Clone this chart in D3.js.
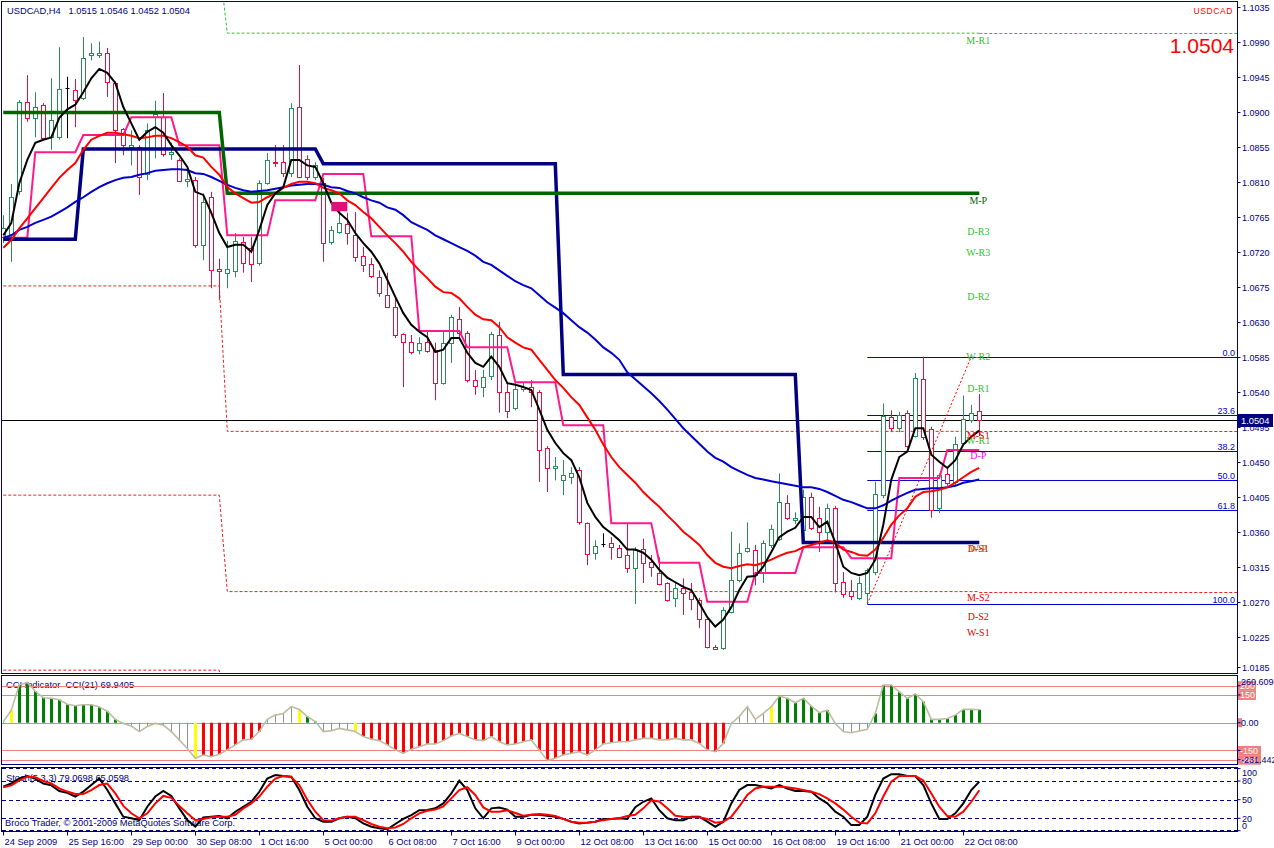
<!DOCTYPE html>
<html><head><meta charset="utf-8">
<script src="https://cdn.jsdelivr.net/npm/d3@7"></script>
<style>
body{margin:0;background:#fff;}
svg{display:block;}
text{font-family:"Liberation Sans",Arial,sans-serif;white-space:pre;}
text.serif{font-family:"Liberation Serif","DejaVu Serif",serif;}
</style>
</head><body>
<svg id="chart" width="1274" height="848"></svg>
<script>
// ---------------- DATA ----------------
const timeLabels = ["24 Sep 2009","25 Sep 16:00","29 Sep 00:00","30 Sep 08:00","1 Oct 16:00","5 Oct 00:00","6 Oct 08:00","7 Oct 16:00","9 Oct 00:00","12 Oct 08:00","13 Oct 16:00","15 Oct 00:00","16 Oct 08:00","19 Oct 16:00","21 Oct 00:00","22 Oct 08:00"];
const timeLabelBars = [0,8,16,24,32,40,48,56,64,72,80,88,96,104,112,120];
const priceTicks = [1.1035,1.0990,1.0945,1.0900,1.0855,1.0810,1.0765,1.0720,1.0675,1.0630,1.0585,1.0540,1.0495,1.0450,1.0405,1.0360,1.0315,1.0270,1.0225,1.0185];

const open = [1.0739,1.0743,1.0797,1.0912,1.0892,1.0909,1.0867,1.0867,1.0930,1.0928,
1.0918,1.0972,1.0973,1.0975,1.0937,1.0878,1.0855,1.0855,1.0819,1.0893,
1.0893,1.0846,1.0838,1.0810,1.0812,1.0729,1.0790,1.0698,1.0693,1.0696,
1.0732,1.0725,1.0705,1.0808,1.0835,1.0835,1.0821,1.0906,1.0839,1.0816,
1.0808,1.0732,1.0745,1.0756,1.0741,1.0714,1.0704,1.0687,1.0664,1.0649,
1.0614,1.0604,1.0594,1.0604,1.0594,1.0551,1.0603,1.0633,1.0615,1.0555,
1.0546,1.0560,1.0613,1.0540,1.0519,1.0543,1.0546,1.0540,1.0468,1.0441,
1.0426,1.0430,1.0439,1.0371,1.0333,1.0344,1.0345,1.0339,1.0330,1.0313,
1.0338,1.0321,1.0307,1.0294,1.0275,1.0288,1.0282,1.0272,1.0248,1.0212,
1.0210,1.0257,1.0298,1.0335,1.0336,1.0307,1.0343,1.0351,1.0397,1.0375,
1.0362,1.0405,1.0378,1.0360,1.0391,1.0295,1.0284,1.0275,1.0281,1.0308,
1.0407,1.0507,1.0493,1.0513,1.0484,1.0556,1.0492,1.0391,1.0434,1.0424,
1.0474,1.0504,1.0515];
const high = [1.0767,1.0807,1.0915,1.0947,1.0925,1.0911,1.0943,1.0983,1.0945,1.0942,
1.0996,1.0988,1.0990,1.0982,1.0939,1.0879,1.0876,1.0857,1.0885,1.0914,
1.0924,1.0860,1.0840,1.0825,1.0816,1.0795,1.0797,1.0711,1.0734,1.0744,
1.0739,1.0739,1.0812,1.0847,1.0857,1.0857,1.0911,1.0960,1.0844,1.0835,
1.0815,1.0753,1.0784,1.0770,1.0771,1.0726,1.0712,1.0696,1.0693,1.0662,
1.0615,1.0613,1.0610,1.0617,1.0603,1.0619,1.0639,1.0649,1.0618,1.0568,
1.0568,1.0617,1.0630,1.0551,1.0551,1.0552,1.0555,1.0542,1.0470,1.0456,
1.0452,1.0443,1.0443,1.0372,1.0349,1.0358,1.0353,1.0343,1.0371,1.0340,
1.0351,1.0330,1.0327,1.0295,1.0294,1.0300,1.0294,1.0275,1.0249,1.0214,
1.0263,1.0360,1.0345,1.0372,1.0343,1.0349,1.0369,1.0435,1.0407,1.0385,
1.0414,1.0410,1.0392,1.0396,1.0393,1.0308,1.0298,1.0302,1.0313,1.0424,
1.0525,1.0516,1.0514,1.0516,1.0564,1.0585,1.0495,1.0435,1.0443,1.0482,
1.0535,1.0523,1.0537];
const low = [1.0731,1.0707,1.0793,1.0887,1.0867,1.0864,1.0851,1.0864,1.0866,1.0880,
1.0915,1.0966,1.0969,1.0919,1.0834,1.0844,1.0831,1.0793,1.0812,1.0840,
1.0842,1.0838,1.0810,1.0803,1.0725,1.0709,1.0673,1.0658,1.0673,1.0687,
1.0693,1.0681,1.0702,1.0806,1.0829,1.0816,1.0816,1.0815,1.0812,1.0812,
1.0707,1.0729,1.0743,1.0729,1.0707,1.0694,1.0686,1.0662,1.0648,1.0609,
1.0546,1.0588,1.0588,1.0590,1.0529,1.0549,1.0577,1.0610,1.0552,1.0536,
1.0533,1.0555,1.0513,1.0506,1.0516,1.0540,1.0520,1.0424,1.0411,1.0426,
1.0407,1.0421,1.0369,1.0317,1.0324,1.0340,1.0324,1.0326,1.0307,1.0267,
1.0294,1.0302,1.0291,1.0270,1.0263,1.0253,1.0259,1.0236,1.0210,1.0208,
1.0208,1.0255,1.0295,1.0333,1.0291,1.0294,1.0339,1.0348,1.0375,1.0370,
1.0349,1.0362,1.0334,1.0349,1.0282,1.0275,1.0272,1.0272,1.0267,1.0304,
1.0403,1.0488,1.0488,1.0468,1.0481,1.0478,1.0378,1.0384,1.0419,1.0420,
1.0471,1.0500,1.0483];
const close = [1.0750,1.0790,1.0912,1.0891,1.0906,1.0867,1.0889,1.0929,1.0930,1.0915,
1.0969,1.0975,1.0975,1.0938,1.0876,1.0857,1.0857,1.0816,1.0876,1.0897,
1.0846,1.0848,1.0811,1.0813,1.0729,1.0784,1.0696,1.0695,1.0698,1.0734,
1.0705,1.0705,1.0808,1.0838,1.0834,1.0821,1.0905,1.0816,1.0816,1.0831,
1.0731,1.0748,1.0757,1.0744,1.0713,1.0703,1.0689,1.0666,1.0649,1.0613,
1.0604,1.0591,1.0603,1.0592,1.0552,1.0603,1.0636,1.0615,1.0555,1.0547,
1.0559,1.0614,1.0540,1.0516,1.0543,1.0546,1.0540,1.0466,1.0442,1.0444,
1.0433,1.0435,1.0372,1.0331,1.0342,1.0344,1.0340,1.0327,1.0313,1.0336,
1.0320,1.0315,1.0293,1.0272,1.0288,1.0282,1.0273,1.0248,1.0212,1.0209,
1.0259,1.0298,1.0333,1.0339,1.0304,1.0345,1.0363,1.0398,1.0378,1.0378,
1.0405,1.0365,1.0360,1.0391,1.0295,1.0279,1.0277,1.0294,1.0311,1.0408,
1.0509,1.0493,1.0510,1.0471,1.0558,1.0482,1.0388,1.0433,1.0423,1.0473,
1.0505,1.0513,1.0504];

const maFast = [1.0741,1.0757,1.0808,1.0838,1.0860,1.0864,1.0867,1.0892,1.0903,1.0909,
1.0925,1.0943,1.0955,1.0950,1.0937,1.0906,1.0885,1.0864,1.0874,1.0880,
1.0873,1.0857,1.0844,1.0829,1.0797,1.0793,1.0770,1.0744,1.0726,1.0729,
1.0729,1.0720,1.0748,1.0780,1.0795,1.0803,1.0838,1.0838,1.0831,1.0829,
1.0808,1.0783,1.0770,1.0761,1.0744,1.0731,1.0720,1.0705,1.0684,1.0662,
1.0641,1.0626,1.0617,1.0610,1.0591,1.0594,1.0609,1.0609,1.0590,1.0577,
1.0572,1.0585,1.0572,1.0551,1.0549,1.0546,1.0542,1.0517,1.0491,1.0474,
1.0461,1.0452,1.0430,1.0397,1.0379,1.0366,1.0358,1.0349,1.0337,1.0337,
1.0333,1.0324,1.0311,1.0301,1.0295,1.0289,1.0285,1.0268,1.0250,1.0238,
1.0247,1.0263,1.0285,1.0302,1.0303,1.0315,1.0334,1.0353,1.0360,1.0365,
1.0379,1.0379,1.0366,1.0373,1.0346,1.0315,1.0307,1.0304,1.0307,1.0324,
1.0369,1.0427,1.0456,1.0463,1.0493,1.0493,1.0459,1.0450,1.0442,1.0452,
1.0472,1.0482,1.0490];
const maMid = [1.0725,1.0735,1.0750,1.0763,1.0776,1.0789,1.0802,1.0815,1.0825,1.0834,
1.0851,1.0864,1.0869,1.0873,1.0873,1.0871,1.0869,1.0866,1.0867,1.0869,
1.0869,1.0866,1.0861,1.0855,1.0844,1.0841,1.0829,1.0819,1.0803,1.0795,
1.0789,1.0783,1.0784,1.0790,1.0795,1.0802,1.0807,1.0810,1.0810,1.0808,
1.0802,1.0799,1.0795,1.0786,1.0780,1.0771,1.0763,1.0752,1.0741,1.0731,
1.0720,1.0707,1.0696,1.0686,1.0675,1.0668,1.0667,1.0660,1.0649,1.0639,
1.0633,1.0632,1.0623,1.0610,1.0603,1.0597,1.0594,1.0581,1.0568,1.0555,
1.0545,1.0533,1.0523,1.0507,1.0491,1.0472,1.0456,1.0443,1.0433,1.0423,
1.0411,1.0401,1.0392,1.0381,1.0371,1.0360,1.0352,1.0343,1.0330,1.0320,
1.0315,1.0313,1.0316,1.0318,1.0317,1.0320,1.0324,1.0329,1.0333,1.0335,
1.0340,1.0343,1.0346,1.0349,1.0346,1.0337,1.0334,1.0330,1.0329,1.0337,
1.0352,1.0369,1.0381,1.0390,1.0405,1.0411,1.0412,1.0414,1.0417,1.0423,
1.0430,1.0437,1.0442];
const maSlow = [1.0738,1.0741,1.0748,1.0752,1.0757,1.0761,1.0765,1.0771,1.0777,1.0784,
1.0790,1.0797,1.0803,1.0808,1.0812,1.0815,1.0816,1.0819,1.0821,1.0824,
1.0825,1.0826,1.0826,1.0825,1.0821,1.0820,1.0816,1.0811,1.0806,1.0802,
1.0799,1.0797,1.0798,1.0799,1.0801,1.0803,1.0805,1.0806,1.0807,1.0807,
1.0806,1.0803,1.0802,1.0798,1.0795,1.0790,1.0786,1.0783,1.0777,1.0774,
1.0767,1.0758,1.0753,1.0748,1.0741,1.0736,1.0731,1.0726,1.0721,1.0715,
1.0707,1.0703,1.0696,1.0689,1.0682,1.0677,1.0673,1.0664,1.0655,1.0648,
1.0641,1.0632,1.0623,1.0616,1.0607,1.0597,1.0590,1.0581,1.0565,1.0556,
1.0547,1.0538,1.0528,1.0517,1.0505,1.0493,1.0483,1.0473,1.0463,1.0455,
1.0450,1.0443,1.0438,1.0433,1.0429,1.0427,1.0425,1.0423,1.0421,1.0419,
1.0417,1.0417,1.0415,1.0411,1.0406,1.0401,1.0398,1.0394,1.0390,1.0390,
1.0394,1.0400,1.0405,1.0410,1.0414,1.0415,1.0416,1.0416,1.0417,1.0419,
1.0423,1.0425,1.0427];

// pivot step levels: first bar of each period and its value
const dayStartBars = [0,4,10,16,22,28,34,40,46,52,58,64,70,76,82,88,94,100,106,112,118];
const dailyPivot = [1.0738,1.0848,1.0870,1.0893,1.0857,1.0741,1.0786,1.0820,1.0740,1.0618,1.0597,1.0552,1.0497,1.0371,1.0320,1.0270,1.0307,1.0340,1.0326,1.0429,1.0465];
const weekStartBars = [0,10,40,70,100];
const weeklyPivot = [1.0736,1.0852,1.0833,1.0562,1.0346];
const monthStartBars = [0,28];
const monthlyPivot = [1.0899,1.0795];
const monthlyR1 = [1.1090,1.1001];
const monthlyS1 = [1.0676,1.0489];
const monthlyS2 = [1.0407,1.0283];
const monthlyS3 = [1.0182,1.0090];

const pivotLabelNames = ["M-R1","M-P","D-R3","W-R3","D-R2","W-R2","D-R1","M-S1","W-R1","D-P","D-S1","W-P","M-S2","D-S2","W-S1"];
const pivotLabelLevels = [1.1001,1.0795,1.0755,1.0728,1.0671,1.0594,1.0553,1.0493,1.0486,1.0467,1.0347,1.0347,1.0285,1.0260,1.0240];

const fibLevels = [0,23.6,38.2,50,61.8,100];
const fibHighPrice = 1.0585, fibLowPrice = 1.0267;
const fibBars = [108,121];
const markerBars = [41,43], markerPrices = [1.0784,1.0772];
const bidPrice = 1.0504;

const cci = [5,68,205,218,170,135,132,124,100,92,
97,97,85,62,18,-4,-18,-48,-21,-4,
-13,-48,-93,-139,-192,-175,-184,-171,-147,-120,
-93,-90,-48,18,41,50,87,72,33,6,
-48,-43,-31,-39,-48,-75,-89,-97,-120,-147,
-165,-144,-130,-115,-115,-97,-72,-58,-75,-93,
-97,-75,-103,-120,-115,-103,-93,-147,-205,-192,
-175,-165,-157,-175,-147,-115,-108,-103,-103,-93,
-85,-85,-93,-93,-85,-93,-93,-112,-147,-157,
-112,-4,33,87,18,50,87,144,132,108,
132,90,54,68,-4,-48,-54,-45,-36,50,
204,204,167,132,155,114,18,18,23,41,
72,72,69.94];
const cciStateRuns = [["n",1],["y",1],["g",13],["n",9],["y",1],["r",8],["n",4],["y",1],["g",2],["n",4],["y",1],["r",46],["n",5],["y",1],["g",7],["n",5],["g",14]];
const cciLevels = [200,150,0,-150,-200];
const cciRange = [-231.442,260.609];

const stochMain = [70.8,76,84,88,84,76,73,64,61,55,
63,73.5,84,65.5,44,22.5,20,17,38.6,55,
64,56,36,17,6.4,21.5,22.5,23.6,20,30.6,
38.6,46.6,62.7,84,89.6,88,86.9,65.5,38.6,20,
14.5,14.5,20,22.5,20,11.8,6.4,3.8,2.2,10.8,
19,25,33,33.5,36,44,60,80.4,65.5,36,
20,36,37.5,34,22.5,22.5,25.7,25.7,24,22.5,
19,14.5,11.8,13,14.5,19,19,20,19,38,
46.6,52,33,20,17,17,22.5,22.5,14.5,6.4,
14.5,44,65.5,73.5,73.5,70.8,68,73.5,68,64,
64,62.7,52,44,30.6,22.5,9,9,22.5,57.6,
84,91,91,88,88,73.5,44,19,19,28,
44,65.5,79.07];
const stochSignal = [70,73,81,87,86,80,76,68,63,59,
59,65.5,73.5,76,60,40,28,20,28,44,
56,53,40,28,17,19,21.5,22.5,22.5,25.7,
36,44,55,70.8,84,88,86,73.5,50,30.6,
17,16,20,22.5,22.5,17,10.8,6.4,3.8,5.3,
10.8,20,28,32,34,39,52,65.5,70,57.6,
37.5,30.6,30.6,33,28.5,24,25.7,27,25.7,23.6,
19,14.5,13,13,14.5,17,19,20,23.6,25.7,
36,49,47,36,24,22.5,21.5,21.5,19,13,
14.5,22.5,39,57.6,68,70.8,70.8,70.8,70,68,
65.5,62.7,59,52,44,34,22.5,13,11.8,28,
55,79,88,88,88,81,60,38.6,23.6,22.5,
30.6,46.6,65.06];
const stochLevels = [80,50,20];
const stochAxisTicks = [100,80,50,20,0];

// ---------------- DRAWING ----------------
const NAVY = "#000080", BLUE = "#0000cd", SALMON = "#f08080";
const svg = d3.select("#chart");
const AX = 1237.5;
const PR = {top:1.5, bottom:673.5}, CC = {top:675.5, bottom:764.5}, ST = {top:767.5, bottom:831.5};
const nBars = open.length;
const bars = d3.range(nBars);

const x = d3.scaleLinear().domain([0, 122]).range([3.3, 979.3]);
const y = d3.scaleLinear().domain([1.1035, 1.0225]).range([6.7, 636.7]);
const yC = d3.scaleLinear().domain([cciRange[1], cciRange[0]]).range([674.5, 765.5]);
const yS = d3.scaleLinear().domain([100, 0]).range([768.6, 830.7]);
const px = i => Math.round(x(i)) + 0.5;

const defs = svg.append("defs");
function clip(id, top, bottom){
  defs.append("clipPath").attr("id", id).append("rect")
    .attr("x", 2).attr("y", top + 0.5).attr("width", AX - 2.5).attr("height", bottom - top - 1);
}
clip("cp", PR.top, PR.bottom); clip("cc", CC.top, CC.bottom); clip("cs", ST.top, ST.bottom);

svg.append("rect").attr("width", 1274).attr("height", 848).attr("fill", "#fff");

// ---- price panel ----
const gP = svg.append("g").attr("clip-path", "url(#cp)");

svg.append("text").attr("x", 7).attr("y", 14).attr("font-size", 9.3).attr("fill", NAVY)
  .text("USDCAD,H4   1.0515 1.0546 1.0452 1.0504");

const expand = (starts, vals) => bars.map(i => { let k = 0; starts.forEach((s, j) => { if (s <= i) k = j; }); return vals[k]; });
const line = d3.line().x((d, i) => x(i)).y(d => y(d));

// monthly dashed S/R levels
[[monthlyR1, "#33bb33"], [monthlyS1, "#ee2222"], [monthlyS2, "#ee2222"], [monthlyS3, "#ee2222"]].forEach(([vals, col]) => {
  gP.append("path").attr("d", line(expand(monthStartBars, vals))).attr("fill", "none")
    .attr("stroke", col).attr("stroke-width", 1).attr("stroke-dasharray", "3,2");
});
[[monthlyR1, "#33bb33"], [monthlyS1, "#ee2222"], [monthlyS2, "#ee2222"]].forEach(([vals, col]) => {
  const v = vals[vals.length - 1];
  gP.append("line").attr("x1", x(122)).attr("x2", AX).attr("y1", Math.round(y(v)) + 0.5).attr("y2", Math.round(y(v)) + 0.5)
    .attr("stroke", col).attr("stroke-dasharray", "3,2");
});

// fibonacci levels
fibLevels.forEach(l => {
  const p = fibHighPrice - (fibHighPrice - fibLowPrice) * l / 100;
  const yy = Math.round(y(p)) + 0.5;
  gP.append("line").attr("x1", x(fibBars[0])).attr("x2", AX).attr("y1", yy).attr("y2", yy).attr("stroke", BLUE).attr("stroke-width", 1);
  svg.append("text").attr("x", 1235).attr("y", yy - 2).attr("text-anchor", "end").attr("font-size", 9).attr("fill", BLUE)
    .text(l === 0 ? "0.0" : l === 100 ? "100.0" : l.toFixed(1));
});

// bid line
gP.append("line").attr("x1", 2).attr("x2", AX).attr("y1", Math.round(y(bidPrice)) + 0.5).attr("y2", Math.round(y(bidPrice)) + 0.5)
  .attr("stroke", "#000").attr("stroke-width", 1);

// candles
const candleColor = i => close[i] > open[i] ? "#2e8b57" : close[i] < open[i] ? "#dc143c" : "#000";
gP.append("g").selectAll("line").data(bars).join("line")
  .attr("x1", px).attr("x2", px).attr("y1", i => y(high[i])).attr("y2", i => y(low[i]))
  .attr("stroke", candleColor).attr("stroke-width", 1);
gP.append("g").selectAll("rect").data(bars.filter(i => open[i] !== close[i])).join("rect")
  .attr("x", i => px(i) - 2).attr("width", 4)
  .attr("y", i => Math.round(Math.min(y(open[i]), y(close[i]))) + 0.5)
  .attr("height", i => Math.max(1, Math.round(Math.abs(y(open[i]) - y(close[i])))))
  .attr("fill", "#fff").attr("stroke", candleColor).attr("stroke-width", 1);
gP.append("g").selectAll("line").data(bars.filter(i => open[i] === close[i])).join("line")
  .attr("x1", i => px(i) - 2).attr("x2", i => px(i) + 2)
  .attr("y1", i => Math.round(y(open[i])) + 0.5).attr("y2", i => Math.round(y(open[i])) + 0.5)
  .attr("stroke", "#000");

// daily pivot (pink), weekly (navy thick), monthly (green thick)
gP.append("path").attr("d", line(expand(dayStartBars, dailyPivot))).attr("fill", "none").attr("stroke", "#ff1a8c").attr("stroke-width", 2);
gP.append("path").attr("d", line(expand(weekStartBars, weeklyPivot))).attr("fill", "none").attr("stroke", NAVY).attr("stroke-width", 3.5);
gP.append("path").attr("d", line(expand(monthStartBars, monthlyPivot))).attr("fill", "none").attr("stroke", "#006400").attr("stroke-width", 3.5);

// moving averages
gP.append("path").attr("d", line(maSlow)).attr("fill", "none").attr("stroke", "#0000cd").attr("stroke-width", 2);
gP.append("path").attr("d", line(maMid)).attr("fill", "none").attr("stroke", "#ff0000").attr("stroke-width", 2);
gP.append("path").attr("d", line(maFast)).attr("fill", "none").attr("stroke", "#000").attr("stroke-width", 2);

// fib trend (red dotted)
gP.append("line").attr("x1", x(fibBars[0])).attr("y1", y(fibLowPrice)).attr("x2", x(fibBars[1])).attr("y2", y(fibHighPrice))
  .attr("stroke", "#ff0000").attr("stroke-width", 1).attr("stroke-dasharray", "2,2");

// marker rectangle
gP.append("rect").attr("x", x(markerBars[0])).attr("width", x(markerBars[1]) - x(markerBars[0]))
  .attr("y", y(markerPrices[0])).attr("height", y(markerPrices[1]) - y(markerPrices[0])).attr("fill", "#e0107a");

// pivot labels (serif)
const labelColor = n => n === "M-P" ? "#006400" : n === "D-P" ? "#ff00ff" : n === "W-P" ? "#b07000" : n.includes("R") ? "#2fbf2f" : "#e00000";
pivotLabelNames.forEach((n, k) => {
  svg.append("text").attr("class", "serif").attr("x", x(122) - 1).attr("y", y(pivotLabelLevels[k]) + 10.5).attr("text-anchor", "middle")
    .attr("font-size", 10).attr("fill", labelColor(n)).text(n);
});

// top-right symbol and price
svg.append("text").attr("x", 1233).attr("y", 14).attr("text-anchor", "end").attr("font-size", 8.5).attr("letter-spacing", 0.6).attr("fill", "#ff0000").text("USDCAD");
svg.append("text").attr("x", 1234).attr("y", 53).attr("text-anchor", "end").attr("font-size", 21).attr("fill", "#ff0000").text("1.0504");

// ---- CCI panel ----
svg.append("text").attr("x", 6).attr("y", 688).attr("font-size", 9.3).attr("fill", NAVY).text("CCI Indicator  CCI(21) 69.9405");
const gC = svg.append("g").attr("clip-path", "url(#cc)");
cciLevels.forEach(l => {
  const yy = Math.round(yC(l)) + 0.5;
  gC.append("line").attr("x1", 2).attr("x2", AX).attr("y1", yy).attr("y2", yy).attr("stroke", SALMON);
});
const cciState = cciStateRuns.flatMap(([s, n]) => Array(n).fill(s));
const stateCol = {g: "#008000", r: "#ff0000", y: "#ffff00", n: "#909090"};
gC.append("g").selectAll("rect").data(bars).join("rect")
  .attr("x", i => cciState[i] === "n" ? Math.round(x(i)) : Math.round(x(i)) - 1)
  .attr("width", i => cciState[i] === "n" ? 1 : 3)
  .attr("y", i => Math.min(yC(0), yC(cci[i])))
  .attr("height", i => Math.abs(yC(cci[i]) - yC(0)))
  .attr("fill", i => stateCol[cciState[i]]);
gC.append("path").attr("d", d3.line().x((d, i) => x(i)).y(d => yC(d))(cci))
  .attr("fill", "none").attr("stroke", "#bdbda2").attr("stroke-width", 1.6);

// ---- Stochastic panel ----
svg.append("text").attr("x", 6).attr("y", 781).attr("font-size", 9.3).attr("fill", NAVY).text("Stoch(5,3,3) 79.0698 65.0598");
svg.append("text").attr("x", 5).attr("y", 826).attr("font-size", 9.3).attr("fill", NAVY).text("Broco Trader, © 2001-2009 MetaQuotes Software Corp.");
const gS = svg.append("g").attr("clip-path", "url(#cs)");
stochLevels.forEach(l => {
  const yy = Math.round(yS(l)) + 0.5;
  gS.append("line").attr("x1", 2).attr("x2", AX).attr("y1", yy).attr("y2", yy).attr("stroke", NAVY).attr("stroke-dasharray", "4,3");
});
[100, 0].forEach(l => {
  const yy = l === 100 ? ST.top + 1 : ST.bottom - 1;
  svg.append("line").attr("x1", 2).attr("x2", AX).attr("y1", yy).attr("y2", yy).attr("stroke", NAVY).attr("stroke-dasharray", "4,3");
});
const sLine = d3.line().x((d, i) => x(i)).y(d => yS(d));
gS.append("path").attr("d", sLine(stochMain)).attr("fill", "none").attr("stroke", "#000").attr("stroke-width", 2);
gS.append("path").attr("d", sLine(stochSignal)).attr("fill", "none").attr("stroke", "#ff0000").attr("stroke-width", 2);

// ---- frames ----
[PR, CC, ST].forEach(p => {
  svg.append("rect").attr("x", 1.5).attr("y", p.top).attr("width", AX - 1.5).attr("height", p.bottom - p.top)
    .attr("fill", "none").attr("stroke", NAVY).attr("stroke-width", 1);
});

// ---- price axis ----
priceTicks.forEach(t => {
  const yy = Math.min(Math.round(y(t)) + 0.5, 667.5);
  svg.append("line").attr("x1", AX).attr("x2", AX + 3).attr("y1", yy).attr("y2", yy).attr("stroke", NAVY);
  svg.append("text").attr("x", 1242).attr("y", yy + 3.3).attr("font-size", 9).attr("fill", NAVY).text(t.toFixed(4));
});
const bidY = Math.round(y(bidPrice)) + 0.5;
svg.append("rect").attr("x", 1238).attr("y", bidY - 6.5).attr("width", 35).attr("height", 13).attr("fill", NAVY);
svg.append("text").attr("x", 1241).attr("y", bidY + 3.5).attr("font-size", 9.3).attr("fill", "#fff").text(bidPrice.toFixed(4));

// ---- CCI axis ----
[200, 150, -150, -200].forEach(l => {
  const yy = yC(l);
  const t = String(l);
  svg.append("rect").attr("x", 1238).attr("y", yy - 4.5).attr("width", t.length * 5 + 3).attr("height", 9.5).attr("fill", SALMON);
  svg.append("text").attr("x", 1240).attr("y", yy + 3.3).attr("font-size", 9).attr("fill", "#fff").text(t);
});
svg.append("rect").attr("x", 1238).attr("y", yC(0) - 4.5).attr("width", 4).attr("height", 9).attr("fill", SALMON);
svg.append("text").attr("x", 1241).attr("y", yC(0) + 3.3).attr("font-size", 9).attr("fill", NAVY).text("0.00");
svg.append("text").attr("x", 1241).attr("y", 685).attr("font-size", 9).attr("fill", NAVY).text(cciRange[1].toFixed(4));
svg.append("text").attr("x", 1241).attr("y", 763).attr("font-size", 9).attr("fill", NAVY).text(cciRange[0].toFixed(3));
[200,150,0,-150,-200].forEach(l => {
  svg.append("line").attr("x1", AX).attr("x2", AX + 3).attr("y1", yC(l)).attr("y2", yC(l)).attr("stroke", NAVY);
});

// ---- Stoch axis ----
stochAxisTicks.forEach(t => {
  const yy = Math.max(773, Math.min(826, yS(t)));
  svg.append("line").attr("x1", AX).attr("x2", AX + 3).attr("y1", yS(t)).attr("y2", yS(t)).attr("stroke", NAVY);
  svg.append("text").attr("x", 1242).attr("y", yy + 3.3).attr("font-size", 9).attr("fill", NAVY).text(String(t));
});

// ---- time axis ----
timeLabels.forEach((t, k) => {
  const xx = px(timeLabelBars[k]);
  svg.append("line").attr("x1", xx).attr("x2", xx).attr("y1", ST.bottom).attr("y2", ST.bottom + 4).attr("stroke", NAVY);
  svg.append("text").attr("x", xx + 1).attr("y", 845).attr("font-size", 9.3).attr("fill", NAVY).text(t);
});
</script>
</body></html>
